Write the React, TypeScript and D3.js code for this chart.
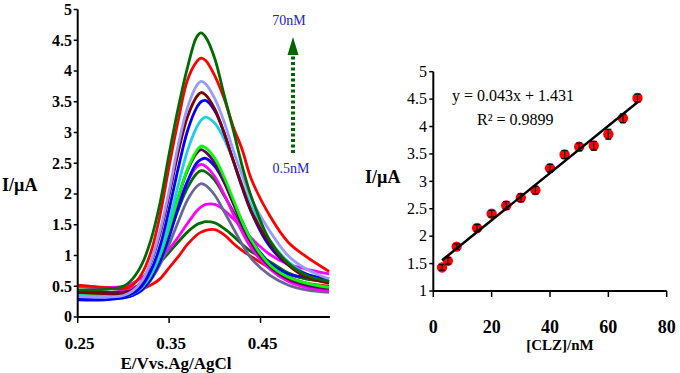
import React from "react";
import * as d3 from "d3";

// ---- left panel: DPV curves ----
const potentials = [0.25, 0.28, 0.30, 0.31, 0.32, 0.33, 0.34, 0.35, 0.36, 0.37, 0.38, 0.385, 0.39, 0.40, 0.41, 0.42, 0.43, 0.44, 0.46, 0.48, 0.50, 0.525];

const curveColors = ["#ff0000", "#006b00", "#ff00ff", "#666699", "#006b00", "#ff00ff", "#0000ff", "#660066", "#00ff00", "#22ccee", "#0000ff", "#800000", "#9999ff", "#ff0000", "#006b00"];

const c01 = [0.40, 0.38, 0.38, 0.40, 0.45, 0.52, 0.62, 0.80, 0.98, 1.18, 1.33, 1.38, 1.41, 1.42, 1.34, 1.20, 1.08, 0.98, 0.80, 0.65, 0.55, 0.50];
const c02 = [0.40, 0.40, 0.42, 0.46, 0.54, 0.70, 0.88, 1.05, 1.22, 1.38, 1.50, 1.53, 1.55, 1.53, 1.44, 1.32, 1.18, 1.06, 0.90, 0.72, 0.62, 0.58];
const c03 = [0.50, 0.48, 0.50, 0.55, 0.64, 0.76, 0.92, 1.10, 1.30, 1.52, 1.72, 1.79, 1.83, 1.83, 1.74, 1.60, 1.45, 1.28, 1.02, 0.86, 0.78, 0.70];
const c04 = [0.32, 0.30, 0.31, 0.35, 0.43, 0.60, 0.85, 1.18, 1.55, 1.90, 2.12, 2.17, 2.14, 1.98, 1.72, 1.45, 1.18, 0.95, 0.68, 0.52, 0.44, 0.40];
const c05 = [0.38, 0.37, 0.38, 0.42, 0.52, 0.70, 0.98, 1.35, 1.75, 2.10, 2.33, 2.38, 2.36, 2.22, 1.98, 1.72, 1.45, 1.22, 0.88, 0.70, 0.62, 0.58];
const c06 = [0.50, 0.47, 0.45, 0.47, 0.55, 0.72, 1.00, 1.38, 1.82, 2.20, 2.44, 2.48, 2.45, 2.28, 2.00, 1.68, 1.38, 1.12, 0.78, 0.58, 0.48, 0.42];
const c07 = [0.28, 0.28, 0.31, 0.35, 0.44, 0.62, 0.90, 1.30, 1.78, 2.20, 2.50, 2.56, 2.58, 2.45, 2.20, 1.88, 1.55, 1.25, 0.88, 0.70, 0.65, 0.62];
const c08 = [0.42, 0.40, 0.40, 0.44, 0.55, 0.75, 1.05, 1.48, 1.95, 2.38, 2.66, 2.72, 2.68, 2.50, 2.20, 1.85, 1.50, 1.20, 0.82, 0.62, 0.52, 0.46];
const c09 = [0.36, 0.34, 0.34, 0.38, 0.48, 0.68, 1.00, 1.45, 1.95, 2.40, 2.70, 2.78, 2.75, 2.58, 2.28, 1.92, 1.55, 1.25, 0.85, 0.65, 0.55, 0.48];
const c10 = [0.35, 0.33, 0.34, 0.38, 0.48, 0.70, 1.05, 1.55, 2.15, 2.70, 3.08, 3.20, 3.25, 3.15, 2.90, 2.55, 2.15, 1.80, 1.25, 0.90, 0.70, 0.58];
const c11 = [0.30, 0.30, 0.33, 0.38, 0.50, 0.75, 1.15, 1.75, 2.42, 3.02, 3.40, 3.50, 3.52, 3.35, 3.00, 2.55, 2.10, 1.70, 1.15, 0.85, 0.70, 0.62];
const c12 = [0.40, 0.38, 0.38, 0.44, 0.58, 0.88, 1.35, 1.98, 2.68, 3.25, 3.58, 3.65, 3.61, 3.38, 3.00, 2.55, 2.12, 1.72, 1.20, 0.85, 0.65, 0.55];
const c13 = [0.33, 0.32, 0.35, 0.42, 0.58, 0.90, 1.40, 2.05, 2.80, 3.40, 3.76, 3.83, 3.79, 3.55, 3.18, 2.72, 2.30, 1.92, 1.40, 1.00, 0.78, 0.62];
const c14 = [0.52, 0.48, 0.46, 0.52, 0.70, 1.05, 1.65, 2.45, 3.20, 3.85, 4.15, 4.21, 4.17, 3.92, 3.56, 3.10, 2.72, 2.24, 1.65, 1.22, 0.98, 0.74];
const c15 = [0.44, 0.45, 0.50, 0.62, 0.85, 1.25, 1.85, 2.65, 3.40, 4.05, 4.55, 4.62, 4.55, 4.20, 3.62, 3.05, 2.45, 1.95, 1.25, 0.88, 0.68, 0.58];
const curves = [c01, c02, c03, c04, c05, c06, c07, c08, c09, c10, c11, c12, c13, c14, c15];

const leftYTicks = [0, 0.5, 1, 1.5, 2, 2.5, 3, 3.5, 4, 4.5, 5];
const leftXTicks = [0.25, 0.35, 0.45];

// ---- right panel: calibration ----
const conc = [3, 5, 8, 15, 20, 25, 30, 35, 40, 45, 50, 55, 60, 65, 70];
const current = [1.43, 1.55, 1.81, 2.15, 2.41, 2.56, 2.70, 2.84, 3.24, 3.49, 3.63, 3.65, 3.86, 4.15, 4.52];
const errors = [0.05, 0.06, 0.05, 0.06, 0.06, 0.07, 0.07, 0.07, 0.07, 0.07, 0.07, 0.08, 0.09, 0.08, 0.07];
const slope = 0.043;
const intercept = 1.431;
const rightYTicks = [1, 1.5, 2, 2.5, 3, 3.5, 4, 4.5, 5];
const rightXTicks = [0, 20, 40, 60, 80];

const serif = "'Liberation Serif', 'Times New Roman', serif";

export default function App() {
  const xL = d3.scaleLinear().domain([0.25, 0.526]).range([77.7, 330]);
  const yL = d3.scaleLinear().domain([0, 5]).range([317, 9.5]);
  const line = d3.line<number>()
    .x((d, i) => xL(potentials[i]))
    .y(d => yL(d))
    .curve(d3.curveCatmullRom.alpha(0.5));

  const xR = d3.scaleLinear().domain([0, 80]).range([433.3, 666.7]);
  const yR = d3.scaleLinear().domain([1, 5]).range([291, 71.7]);

  return (
    <svg width={680} height={373} style={{ position: "absolute", left: 0, top: 0, background: "#fff" }}
      fontFamily={serif}>
      {/* left panel */}
      <g>
        {curves.map((c, i) => (
          <path key={i} d={line(c) || ""} fill="none" stroke={curveColors[i]} strokeWidth={2.8} strokeLinejoin="round" />
        ))}
        <line x1={xL(0.25)} x2={xL(0.25)} y1={yL(0)} y2={yL(5)} stroke="#000" strokeWidth={2} />
        <line x1={xL(0.25)} x2={330} y1={yL(0)} y2={yL(0)} stroke="#000" strokeWidth={2} />
        {leftYTicks.map(t => (
          <g key={t}>
            <line x1={xL(0.25) - 4} x2={xL(0.25)} y1={yL(t)} y2={yL(t)} stroke="#000" strokeWidth={1.5} />
            <text x={72} y={yL(t)} dy="0.33em" textAnchor="end" fontWeight="bold" fontSize={16}>{d3.format("")(t)}</text>
          </g>
        ))}
        {leftXTicks.map(t => (
          <g key={t}>
            <line x1={xL(t)} x2={xL(t)} y1={yL(0)} y2={yL(0) + 6} stroke="#000" strokeWidth={1.5} />
            <text x={xL(t) + 2} y={349} textAnchor="middle" fontWeight="bold" fontSize={17}>{t.toFixed(2)}</text>
          </g>
        ))}
        <text x={176} y={369} textAnchor="middle" fontWeight="bold" fontSize={17}>E/Vvs.Ag/AgCl</text>
        <text x={2} y={191} fontWeight="bold" fontSize={18}>I/µA</text>
        {/* arrow */}
        <line x1={293} x2={293} y1={153} y2={54} stroke="#006600" strokeWidth={4} strokeDasharray="3,2.5" />
        <path d="M293,37 L287.5,55 L298.5,55 Z" fill="#006600" />
        <text x={289} y={25} textAnchor="middle" fontSize={14} fill="#2424c8">70nM</text>
        <text x={291} y={173} textAnchor="middle" fontSize={14} fill="#2424c8">0.5nM</text>
      </g>

      {/* right panel */}
      <g>
        <line x1={xR(0)} x2={xR(0)} y1={yR(1)} y2={yR(5)} stroke="#000" strokeWidth={2} />
        <line x1={xR(0)} x2={xR(80)} y1={yR(1)} y2={yR(1)} stroke="#000" strokeWidth={2} />
        {rightYTicks.map(t => (
          <g key={t}>
            <line x1={xR(0) - 4} x2={xR(0)} y1={yR(t)} y2={yR(t)} stroke="#000" strokeWidth={1.5} />
            <text x={427} y={yR(t)} dy="0.33em" textAnchor="end" fontSize={16}>{d3.format("")(t)}</text>
          </g>
        ))}
        {rightXTicks.map(t => (
          <g key={t}>
            <line x1={xR(t)} x2={xR(t)} y1={yR(1)} y2={yR(1) + 6} stroke="#000" strokeWidth={1.5} />
            <text x={xR(t)} y={333} textAnchor="middle" fontWeight="bold" fontSize={18}>{t}</text>
          </g>
        ))}
        <text x={560} y={350} textAnchor="middle" fontWeight="bold" fontSize={15}>[CLZ]/nM</text>
        <text x={365} y={183} fontWeight="bold" fontSize={18}>I/µA</text>
        {conc.map((c, i) => (
          <g key={c}>
            <circle cx={xR(c)} cy={yR(current[i])} r={5.2} fill="#ff0000" />
            <line x1={xR(c)} x2={xR(c)} y1={yR(current[i] - errors[i])} y2={yR(current[i] + errors[i])} stroke="#000" strokeWidth={1.2} />
            <line x1={xR(c) - 3} x2={xR(c) + 3} y1={yR(current[i] - errors[i])} y2={yR(current[i] - errors[i])} stroke="#000" strokeWidth={1.2} />
            <line x1={xR(c) - 3} x2={xR(c) + 3} y1={yR(current[i] + errors[i])} y2={yR(current[i] + errors[i])} stroke="#000" strokeWidth={1.2} />
          </g>
        ))}
        <line x1={xR(conc[0])} x2={xR(conc[conc.length - 1])}
          y1={yR(slope * conc[0] + intercept)} y2={yR(slope * conc[conc.length - 1] + intercept)}
          stroke="#000" strokeWidth={2.5} />
        <text x={452} y={101} fontSize={16}>y = 0.043x + 1.431</text>
        <text x={477} y={125} fontSize={16}>R² = 0.9899</text>
      </g>
    </svg>
  );
}
